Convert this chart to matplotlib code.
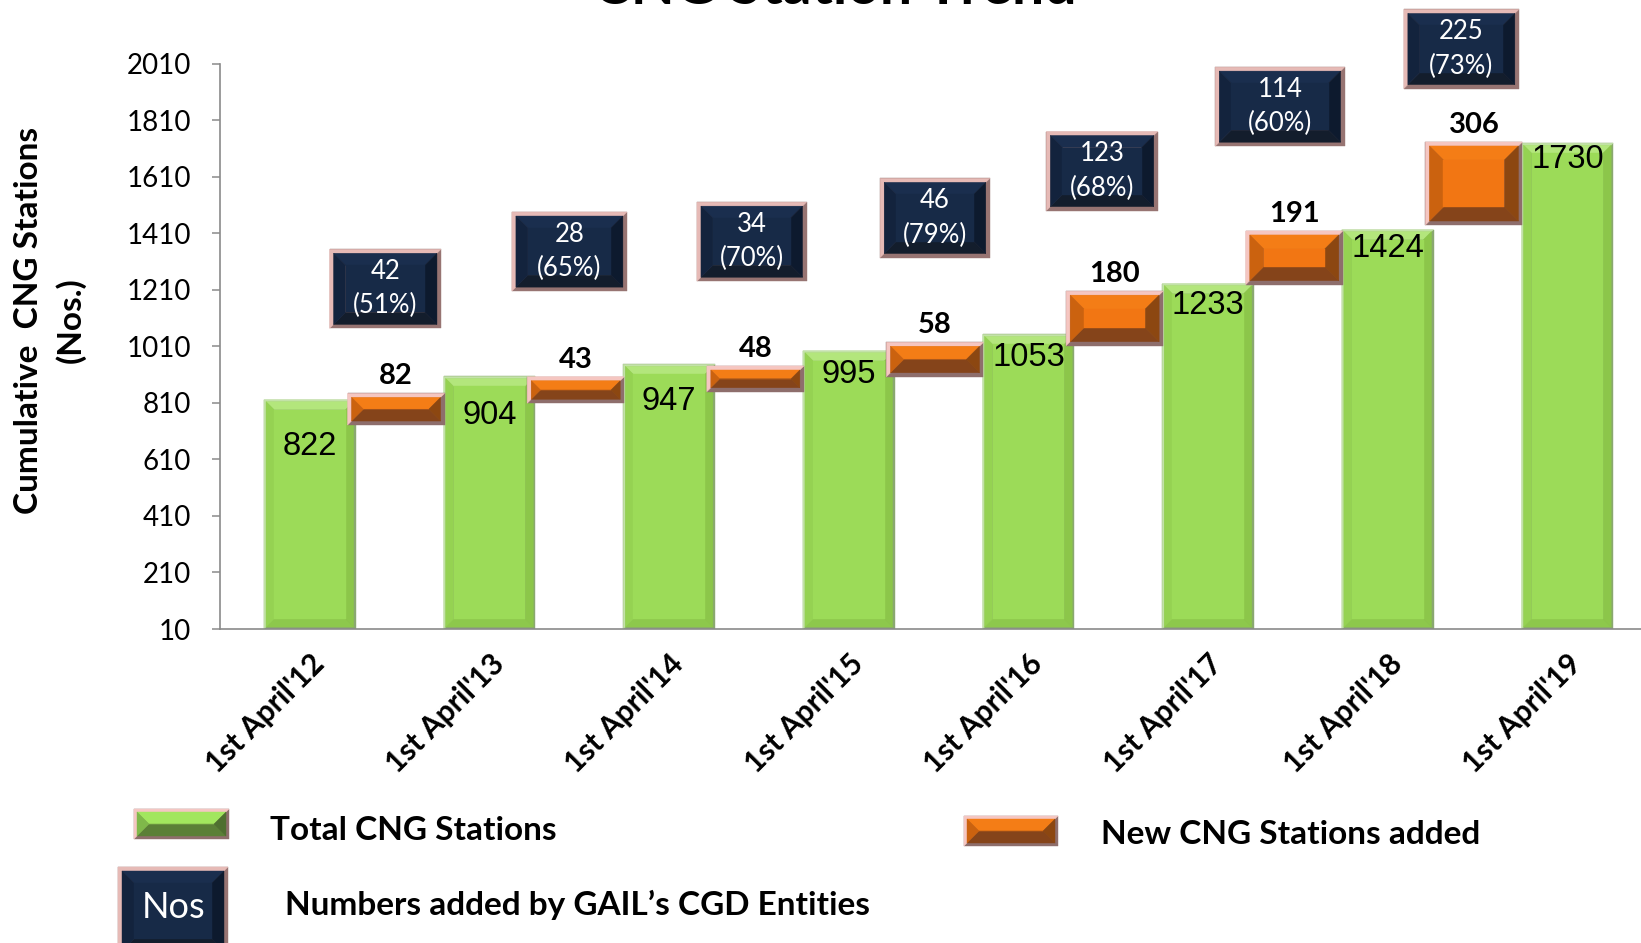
import matplotlib.pyplot as plt
import numpy as np
from matplotlib.patches import Polygon

plt.rcParams['font.family'] = ['Lato', 'DejaVu Sans']

categories = ["1st April'12", "1st April'13", "1st April'14", "1st April'15",
              "1st April'16", "1st April'17", "1st April'18", "1st April'19"]
total_stations = [822, 904, 947, 995, 1053, 1233, 1424, 1730]
new_added = [82, 43, 48, 58, 180, 191, 306]
# the orange blocks float between the columns; bottom/top as drawn in the original
added_low = [732, 809, 850, 903, 1013, 1229, 1440]
added_high = [844, 903, 941, 1025, 1206, 1419, 1734]
gail_added = [42, 28, 34, 46, 123, 114, 225]
gail_share = [51, 65, 70, 79, 68, 60, 73]

GREEN = dict(face='#9cdb58', top='#b3e67c', bot='#8dc84c', left='#95d252', right='#8cc64a',
             hi='#c3e2a8', lo='#8aa870')
ORANGE = dict(face='#f27613', top='#f47d16', bot='#85441a', left='#cb620f', right='#8c4711',
              hi='#f5c6c1', lo='#8e6e6c')
NAVY = dict(face='#172a47', top='#1a2e4e', bot='#131d2c', left='#13233d', right='#0d1a2e',
            hi='#e6bab6', lo='#977472')
SWATCH_GREEN = dict(face='#a2e35e', top='#a2e65e', bot='#5b7f37', left='#7fb84a', right='#4f6f30',
                    hi='#f4c6c2', lo='#8e6e6c')


def bevel(ax, x0, y0, x1, y1, c, b=10, e=3, z=3, clip=True):
    # bevelled box, bevel sizes in pixels
    T = ax.transData
    (a0, b0), (a1, b1) = T.transform([(x0, y0), (x1, y1)])
    l, r = min(a0, a1), max(a0, a1)
    bt, tp = min(b0, b1), max(b0, b1)
    inv = T.inverted()

    def poly(pts, col):
        ax.add_patch(Polygon(inv.transform(pts), closed=True, fc=col, ec=col, lw=0.3,
                             zorder=z, clip_on=clip))

    poly([(l, bt), (r, bt), (r, tp), (l, tp)], c['lo'])
    poly([(l, bt), (l, tp), (r, tp), (r - e, tp - e), (l + e, tp - e), (l + e, bt + e)], c['hi'])
    l, r, bt, tp = l + e, r - e, bt + e, tp - e
    k = min(b, (tp - bt) / 2, (r - l) / 2)
    poly([(l, tp), (r, tp), (r - k, tp - k), (l + k, tp - k)], c['top'])
    poly([(l, bt), (r, bt), (r - k, bt + k), (l + k, bt + k)], c['bot'])
    poly([(l, bt), (l, tp), (l + k, tp - k), (l + k, bt + k)], c['left'])
    poly([(r, bt), (r, tp), (r - k, tp - k), (r - k, bt + k)], c['right'])
    poly([(l + k, bt + k), (r - k, bt + k), (r - k, tp - k), (l + k, tp - k)], c['face'])


W, H = 1641, 943
fig = plt.figure(figsize=(W / 100, H / 100), dpi=100)
ax = fig.add_axes([220 / W, 1 - 629 / H, 1 - 220 / W, (629 - 64) / H])
ax.set_xlim(-0.5, 7.41)
ax.set_ylim(10, 2010)
ax.set_yticks(np.arange(10, 2011, 200))
for s in ['top', 'right']:
    ax.spines[s].set_visible(False)
for s in ['left', 'bottom']:
    ax.spines[s].set_color('#8a8a8a')
    ax.spines[s].set_linewidth(1.2)
ax.tick_params(axis='y', length=6, width=1.1, color='#8a8a8a', pad=15, labelsize=20)
ax.tick_params(axis='x', length=0, pad=15)

x = np.arange(len(categories))
ax.set_xticks(x)
ax.set_xticklabels(categories, rotation=45, ha='right', va='top', rotation_mode='anchor',
                   fontsize=21.5, fontweight='bold')

# green columns
bars = ax.bar(x, total_stations, width=0.51, color=GREEN['face'], zorder=2)
for p in bars:
    bevel(ax, p.get_x(), 10, p.get_x() + p.get_width(), p.get_height(), GREEN, b=8, e=2, z=2)

label_drop = [34, 28, 27, 17, 17, 16, 14, 12]  # pt below column top
for xi, t, d in zip(x, total_stations, label_drop):
    ax.annotate(str(t), (xi, t), xytext=(0, -d), textcoords='offset points', ha='center',
                va='center', fontsize=23.5, family='Liberation Sans', zorder=6)

# orange increments
xo = x[:-1] + 0.48
ob = ax.bar(xo, np.array(added_high) - np.array(added_low), bottom=added_low, width=0.54,
            color=ORANGE['face'], zorder=3)
for p in ob:
    bevel(ax, p.get_x(), p.get_y(), p.get_x() + p.get_width(), p.get_y() + p.get_height(),
          ORANGE, b=14, e=4, z=3)
for xi, hi_, n in zip(xo, added_high, new_added):
    ax.annotate(str(n), (xi, hi_), xytext=(0, 3), textcoords='offset points', ha='center',
                va='bottom', fontsize=21, fontweight='bold', zorder=6)

# navy call-outs (GAIL share)
box_x = [0.42, 1.445, 2.46, 3.48, 4.41, 5.40, 6.41]
box_y = [1074, 1206, 1241, 1325, 1491, 1719, 1923]
box_w = [0.62, 0.64, 0.61, 0.61, 0.62, 0.72, 0.64]
box_h = 280
for bx, by, bw, g, pc in zip(box_x, box_y, box_w, gail_added, gail_share):
    bevel(ax, bx - bw / 2, by, bx + bw / 2, by + box_h, NAVY, b=12, e=4, z=4, clip=False)
    ax.text(bx, by + box_h / 2, f"{g}\n({pc}%)", ha='center', va='center', color='white',
            fontsize=18.5, linespacing=1.45, zorder=6, clip_on=False)

# overlay in pixel coordinates for title, axis title and legend
lay = fig.add_axes([0, 0, 1, 1], zorder=5)
lay.set_xlim(0, W)
lay.set_ylim(H, 0)
lay.axis('off')

lay.text(835, 4, "CNG Station Trend", ha='center', va='baseline', fontsize=41, fontweight='bold')
lay.text(50, 320, "Cumulative  CNG Stations\n(Nos.)", rotation=90, ha='center', va='center',
         multialignment='center', fontsize=24, fontweight='bold', linespacing=1.45)

bevel(lay, 134, 809, 229, 839, SWATCH_GREEN, b=14, e=3, z=3)
lay.text(270, 830, "Total CNG Stations", ha='left', va='center', fontsize=24, fontweight='bold')
bevel(lay, 964, 816, 1058, 846, ORANGE, b=14, e=3, z=3)
lay.text(1101, 834, "New CNG Stations added", ha='left', va='center', fontsize=24, fontweight='bold')
bevel(lay, 118, 867, 228, 955, NAVY, b=12, e=4, z=3, clip=False)
lay.text(174, 907, "Nos", ha='center', va='center', color='white', fontsize=26, zorder=6)
lay.text(285, 905, "Numbers added by GAIL\u2019s CGD Entities", ha='left', va='center',
         fontsize=24, fontweight='bold')

fig.savefig('out.png', dpi=100)
